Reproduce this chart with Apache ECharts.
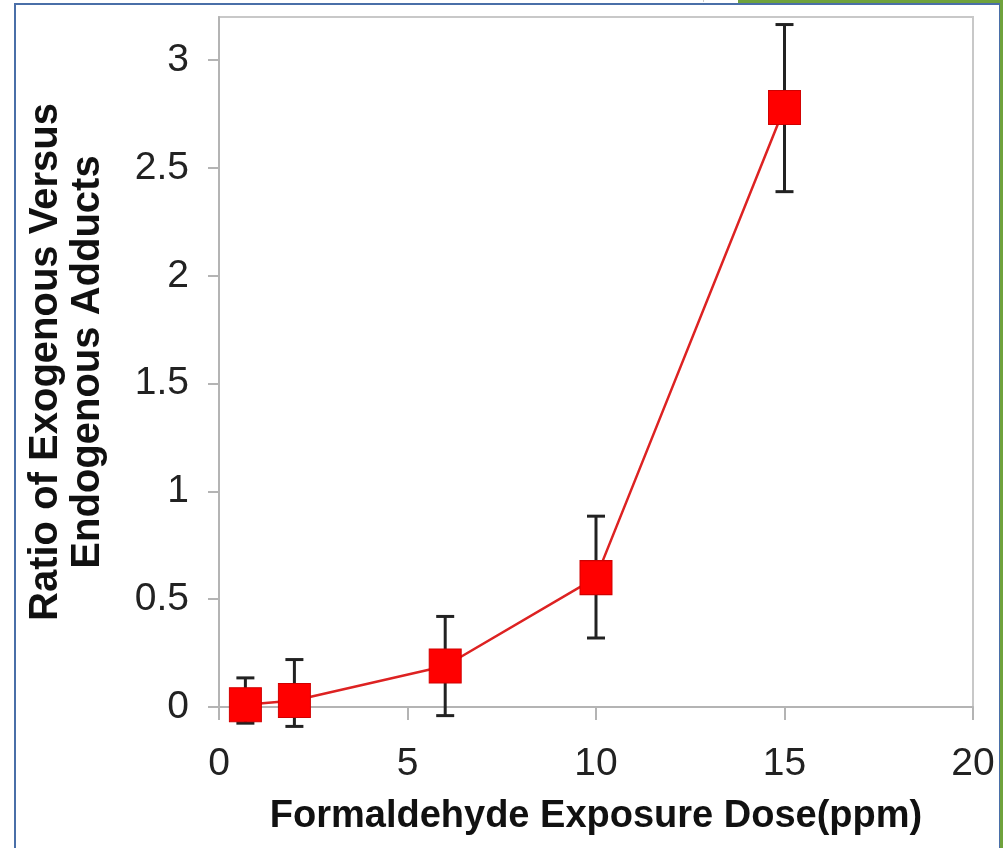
<!DOCTYPE html>
<html>
<head>
<meta charset="utf-8">
<script src="https://cdn.jsdelivr.net/npm/echarts@6/dist/echarts.min.js"></script>
<style>
  html, body { margin: 0; padding: 0; background: #fff; }
  #wrap { position: relative; width: 1003px; height: 848px; overflow: hidden; }
  #frame { position: absolute; left: 14px; top: 3px; width: 983px; height: 860px;
           border: 2px solid #4a6fa8; border-bottom: none; }
  #greenTop { position: absolute; left: 738px; top: 0; width: 265px; height: 3px; background: #6fa23c; }
  #greenRight { position: absolute; left: 1000px; top: 0; width: 3px; height: 848px; background: #6fa23c; }
  #tab { position: absolute; left: 703px; top: 0; width: 34px; height: 2px; border-left: 1px solid #ccc; }
  #chart { position: absolute; left: 0; top: 0; width: 1003px; height: 848px; }
</style>
</head>
<body>
<div id="wrap">
  <div id="frame"></div>
  <div id="greenTop"></div>
  <div id="greenRight"></div>
  <div id="tab"></div>
  <div id="chart"></div>
</div>
<script>
// dose (ppm) and exogenous/endogenous adduct ratio
var doses = [0.7, 2, 6, 10, 15];
var ratios = [0.01, 0.03, 0.19, 0.60, 2.78];
var errLow = [-0.075, -0.09, -0.04, 0.32, 2.39];
var errHigh = [0.135, 0.22, 0.42, 0.885, 3.165];
var yTicks = [0, 0.5, 1, 1.5, 2, 2.5, 3];

var chart = echarts.init(document.getElementById('chart'));

var points = [];
var bars = [];
for (var i = 0; i < doses.length; i++) {
  points.push([doses[i], ratios[i]]);
  bars.push([doses[i], errLow[i], errHigh[i]]);
}

var font = "'Liberation Sans', Arial, sans-serif";

var option = {
  animation: false,
  grid: {
    left: 219, top: 17, right: 30, bottom: 141,
    show: true, borderColor: '#c8c8c8', borderWidth: 2, backgroundColor: 'transparent'
  },
  xAxis: {
    type: 'value', min: 0, max: 20, interval: 5,
    name: 'Formaldehyde Exposure Dose(ppm)',
    nameLocation: 'middle', nameGap: 91,
    nameTextStyle: { fontSize: 38, fontWeight: 'bold', color: '#111', fontFamily: font },
    axisLine: { show: true, onZero: false, lineStyle: { color: '#b4b4b4', width: 2 } },
    axisTick: { show: true, length: 13, lineStyle: { color: '#b4b4b4', width: 2 } },
    axisLabel: { fontSize: 39, color: '#222', margin: 38, fontFamily: font },
    splitLine: { show: false }
  },
  yAxis: {
    type: 'value', min: 0, max: 3.2,
    name: 'Ratio of Exogenous Versus\nEndogenous Adducts',
    nameLocation: 'middle', nameGap: 110, nameRotate: 90,
    nameTextStyle: { fontSize: 40, fontWeight: 'bold', color: '#111', fontFamily: font, lineHeight: 42 },
    axisLine: { show: true, lineStyle: { color: '#b4b4b4', width: 2 } },
    axisTick: { show: true, length: 11, customValues: yTicks, lineStyle: { color: '#b4b4b4', width: 2 } },
    axisLabel: { fontSize: 39, color: '#222', margin: 30, customValues: yTicks, fontFamily: font },
    splitLine: { show: false }
  },
  series: [
    {
      type: 'custom',
      z: 2,
      data: bars,
      renderItem: function (params, api) {
        var x = api.value(0);
        var lo = api.coord([x, api.value(1)]);
        var hi = api.coord([x, api.value(2)]);
        var half = 9;
        var st = { stroke: '#222', lineWidth: 3 };
        return {
          type: 'group',
          children: [
            { type: 'line', shape: { x1: lo[0], y1: lo[1], x2: hi[0], y2: hi[1] }, style: st },
            { type: 'line', shape: { x1: hi[0] - half, y1: hi[1], x2: hi[0] + half, y2: hi[1] }, style: st },
            { type: 'line', shape: { x1: lo[0] - half, y1: lo[1], x2: lo[0] + half, y2: lo[1] }, style: st }
          ]
        };
      }
    },
    {
      type: 'line',
      z: 3,
      data: points,
      symbol: 'rect',
      symbolSize: [32, 34],
      showAllSymbol: true,
      lineStyle: { color: '#dd2222', width: 2.5 },
      itemStyle: { color: '#ff0000', borderColor: '#d00000', borderWidth: 1 }
    }
  ]
};

chart.setOption(option);
</script>
</body>
</html>
